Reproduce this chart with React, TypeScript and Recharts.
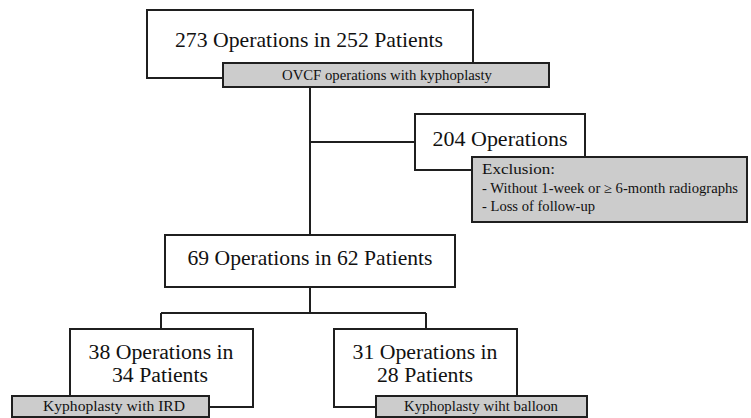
import { ScatterChart, Scatter, XAxis, YAxis, ReferenceArea, ReferenceLine } from 'recharts';

// flowchart drawn on a 751x418 grid, y runs downward
const boxes = [
  { id: 'all', x1: 147, x2: 473, y1: 10, y2: 78 },
  { id: 'excluded', x1: 415, x2: 585, y1: 114, y2: 170 },
  { id: 'included', x1: 165, x2: 455, y1: 235, y2: 287 },
  { id: 'ird', x1: 70, x2: 253, y1: 329, y2: 407 },
  { id: 'balloon', x1: 334, x2: 517, y1: 329, y2: 407 },
];

const tags = [
  { id: 'all', x1: 223, x2: 549, y1: 63, y2: 87 },
  { id: 'excluded', x1: 472, x2: 747, y1: 157, y2: 222 },
  { id: 'ird', x1: 12, x2: 209, y1: 396, y2: 417 },
  { id: 'balloon', x1: 376, x2: 587, y1: 396, y2: 417 },
];

const links = [
  [{ x: 310, y: 87 }, { x: 310, y: 235 }],
  [{ x: 310, y: 142 }, { x: 415, y: 142 }],
  [{ x: 310, y: 287 }, { x: 310, y: 313 }],
  [{ x: 161, y: 313 }, { x: 426, y: 313 }],
  [{ x: 161, y: 313 }, { x: 161, y: 329 }],
  [{ x: 426, y: 313 }, { x: 426, y: 329 }],
];

const titles = [
  { text: '273 Operations in 252 Patients', x: 309, y: 47, w: 268 },
  { text: '204 Operations', x: 500, y: 146, w: 135 },
  { text: '69 Operations in 62 Patients', x: 310, y: 265, w: 245 },
];

const splitTitles = [
  { text: '38 Operations in', x: 161, y: 359, w: 145 },
  { text: '34 Patients', x: 160, y: 382, w: 96 },
  { text: '31 Operations in', x: 425, y: 359, w: 145 },
  { text: '28 Patients', x: 425, y: 382, w: 96 },
];

const notes = [
  { text: 'OVCF operations with kyphoplasty', x: 387, y: 80, w: 210, anchor: 'middle' },
  { text: 'Exclusion:', x: 482, y: 174, w: 73, anchor: 'start' },
  { text: '- Without 1-week or \u2265 6-month radiographs', x: 482, y: 193, w: 256, anchor: 'start' },
  { text: '- Loss of follow-up', x: 482, y: 211, w: 113, anchor: 'start' },
  { text: 'Kyphoplasty with IRD', x: 114, y: 411, w: 142, anchor: 'middle' },
  { text: 'Kyphoplasty wiht balloon', x: 481, y: 411, w: 154, anchor: 'middle' },
];

const INK = '#1f1f1f';
const FONT = '"Liberation Serif", "Times New Roman", serif';

const textShape = (size: number) => (props: any) => {
  const p = props.payload;
  const anchor = p.anchor || 'middle';
  return (
    <text
      x={props.cx}
      y={props.cy}
      textAnchor={anchor}
      fontFamily={FONT}
      fontSize={size}
      fill="#111"
      textLength={p.w}
      lengthAdjust="spacingAndGlyphs"
    >
      {p.text}
    </text>
  );
};

const App = () => {
  return (
    <div style={{ position: 'absolute', left: 0, top: 0, background: '#fff' }}>
      <ScatterChart width={751} height={418} margin={{ top: 0, right: 0, bottom: 0, left: 0 }}>
        <XAxis type="number" dataKey="x" domain={[0, 751]} hide />
        <YAxis type="number" dataKey="y" domain={[0, 418]} reversed hide />
        {boxes.map((b) => (
          <ReferenceArea
            key={'b' + b.id}
            x1={b.x1}
            x2={b.x2}
            y1={b.y1}
            y2={b.y2}
            fill="#fff"
            fillOpacity={1}
            stroke={INK}
            strokeWidth={2}
          />
        ))}
        {tags.map((t) => (
          <ReferenceArea
            key={'t' + t.id}
            x1={t.x1}
            x2={t.x2}
            y1={t.y1}
            y2={t.y2}
            fill="#cccccc"
            fillOpacity={1}
            stroke={INK}
            strokeWidth={2}
          />
        ))}
        {links.map((seg, i) => (
          <ReferenceLine key={'l' + i} segment={seg} stroke={INK} strokeWidth={2} />
        ))}
        <Scatter data={titles} isAnimationActive={false} shape={textShape(22)} />
        <Scatter data={splitTitles} isAnimationActive={false} shape={textShape(20)} />
        <Scatter data={notes} isAnimationActive={false} shape={textShape(14)} />
      </ScatterChart>
    </div>
  );
};

export default App;
